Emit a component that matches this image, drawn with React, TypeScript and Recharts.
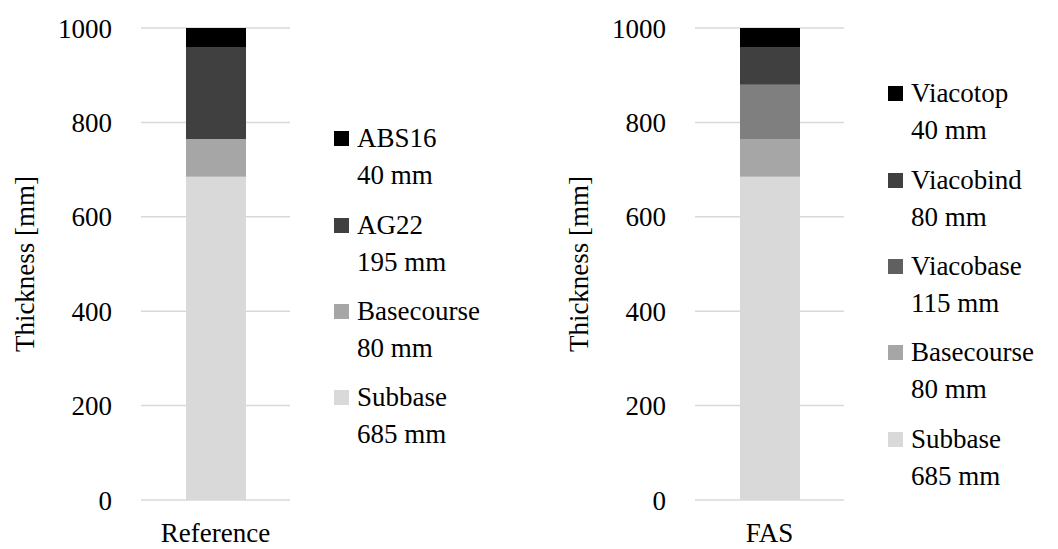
import React from 'react';
import { BarChart, Bar, XAxis, YAxis, CartesianGrid, Legend } from 'recharts';

const refCategories = ['Reference'];
const refLayers = ['Subbase', 'Basecourse', 'AG22', 'ABS16'];
const refValues = [685, 80, 195, 40];
const refColors = ['#d9d9d9', '#a6a6a6', '#404040', '#000000'];
const refLegendColors = ['#d9d9d9', '#a6a6a6', '#404040', '#000000'];

const fasCategories = ['FAS'];
const fasLayers = ['Subbase', 'Basecourse', 'Viacobase', 'Viacobind', 'Viacotop'];
const fasValues = [685, 80, 115, 80, 40];
const fasColors = ['#d9d9d9', '#a6a6a6', '#7f7f7f', '#404040', '#000000'];
const fasLegendColors = ['#d9d9d9', '#a6a6a6', '#606060', '#404040', '#000000'];

const yTicks = [0, 200, 400, 600, 800, 1000];
const yTitle = 'Thickness [mm]';
const unit = 'mm';

const FONT = "'Liberation Serif', 'Noto Serif', 'DejaVu Serif', serif";
const FS = 27;

type PanelProps = {
  category: string;
  layers: string[];
  values: number[];
  colors: string[];
  legendColors: string[];
  width: number;
  left: number;
  legendX: number;
  legendBaseline: number;
};

function Panel(p: PanelProps) {
  const row: Record<string, any> = { name: p.category };
  p.layers.forEach((l, i) => {
    row[l] = p.values[i];
  });
  const data = [row];
  const plotLeft = 141;
  const plotWidth = 149;
  const marginRight = p.width - plotLeft - plotWidth;

  const legendContent = () => {
    const items = p.layers.map((l, i) => ({ l, i })).reverse();
    return (
      <div style={{ position: 'relative', width: 0, height: 0 }}>
        {items.map(({ l, i }, k) => (
          <div
            key={l}
            style={{
              position: 'absolute',
              left: p.legendX,
              top: p.legendBaseline - 27.6 + k * 86.3,
              whiteSpace: 'nowrap',
              fontFamily: FONT,
              fontSize: FS,
              lineHeight: '37px',
              color: '#000',
            }}
          >
            <span
              style={{
                position: 'absolute',
                left: 0,
                top: 11,
                width: 15,
                height: 15,
                background: p.legendColors[i],
              }}
            />
            <div style={{ paddingLeft: 23 }}>
              {l}
              <br />
              {p.values[i]} {unit}
            </div>
          </div>
        ))}
      </div>
    );
  };

  const titleRender = (props: any) => {
    const vb = props.viewBox || { x: 0, y: 28, width: 141, height: 472 };
    const cx = vb.x + 34;
    const cy = vb.y + vb.height / 2;
    return (
      <text
        transform={`translate(${cx}, ${cy}) rotate(-90)`}
        textAnchor="middle"
        style={{ fontFamily: FONT, fontSize: FS }}
        fill="#000"
      >
        {yTitle}
      </text>
    );
  };

  const tickStyle = { fontSize: FS, fill: '#000', style: { fontFamily: FONT } };

  return (
    <div style={{ position: 'absolute', left: p.left, top: 0 }}>
      <BarChart
        width={p.width}
        height={549}
        data={data}
        margin={{ top: 28, right: marginRight, left: 0, bottom: 0 }}
        barSize={60}
      >
        <CartesianGrid vertical={false} stroke="#d9d9d9" strokeWidth={1.5} />
        <XAxis
          dataKey="name"
          axisLine={false}
          tickLine={false}
          tickSize={0}
          tickMargin={23}
          height={49}
          tick={tickStyle}
        />
        <YAxis
          width={141}
          domain={[0, 1000]}
          ticks={yTicks}
          interval={0}
          axisLine={false}
          tickLine={false}
          tickSize={0}
          tickMargin={29}
          tick={tickStyle}
          label={titleRender}
        />
        {p.layers.map((l, i) => (
          <Bar
            key={l}
            dataKey={l}
            stackId="a"
            fill={p.colors[i]}
            isAnimationActive={false}
          />
        ))}
        <Legend
          content={legendContent}
          wrapperStyle={{ position: 'absolute', left: 0, top: 0, width: 0, height: 0, overflow: 'visible' }}
        />
      </BarChart>
    </div>
  );
}

export default function App() {
  return (
    <div style={{ position: 'absolute', left: 0, top: 0, width: 1058, height: 549, background: '#fff' }}>
      <Panel
        category={refCategories[0]}
        layers={refLayers}
        values={refValues}
        colors={refColors}
        legendColors={refLegendColors}
        width={529}
        left={0}
        legendX={334}
        legendBaseline={148}
      />
      <Panel
        category={fasCategories[0]}
        layers={fasLayers}
        values={fasValues}
        colors={fasColors}
        legendColors={fasLegendColors}
        width={504}
        left={554}
        legendX={334}
        legendBaseline={103}
      />
    </div>
  );
}
